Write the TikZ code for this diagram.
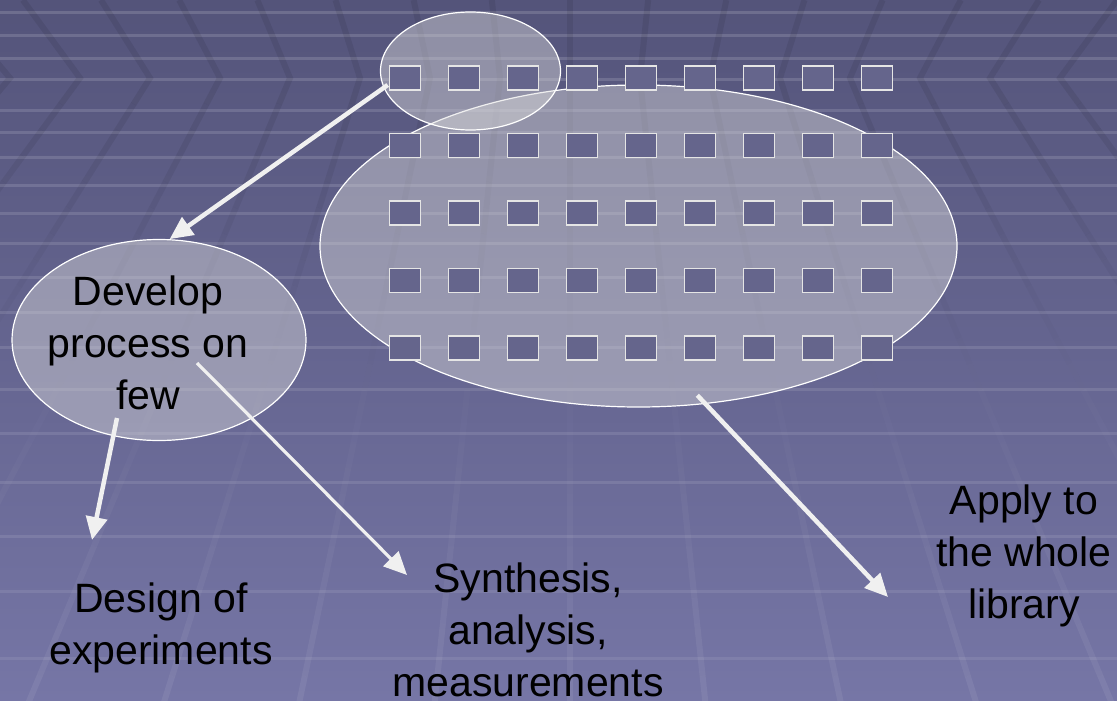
\documentclass[tikz,border=0pt]{standalone}
\usepackage{fontspec}
\setmainfont{Liberation Sans}
\usetikzlibrary{arrows.meta,shapes.geometric}

\definecolor{bgtop}{RGB}{84,84,122}
\definecolor{bgmid}{RGB}{96,96,140}
\definecolor{bgbot}{RGB}{118,118,166}
\definecolor{chipfill}{RGB}{101,101,140}
\definecolor{veil}{RGB}{220,220,220}
\definecolor{arrowwhite}{RGB}{240,240,240}

\tikzset{
  chip/.style={rectangle, draw=white!90!black, line width=1.3pt, fill=chipfill,
    minimum width=31pt, minimum height=24pt, inner sep=0pt},
  blob/.style={ellipse, draw=white, line width=1.2pt, fill=veil, fill opacity=0.44,
    inner sep=0pt},
  flowarrow/.style={draw=arrowwhite, line width=4.5pt,
    -{Triangle[length=23pt,width=21pt]}},
  lbltext/.style={text=black, align=center, font=\fontsize{41}{52}\selectfont,
    inner sep=0pt},
  stripe/.style={draw=white, line width=3pt},
  rib/.style={line width=6pt, line cap=butt, line join=miter},
}

\begin{document}
\begin{tikzpicture}[x=1pt,y=-1pt]
\useasboundingbox (0,0) rectangle (1117,701);
\clip (0,0) rectangle (1117,701);

% backdrop gradient
\fill[top color=bgtop, middle color=bgmid, bottom color=bgbot] (0,0) rectangle (1117,701);

% horizontal floor stripes
\foreach \y in {12.7,36,59,80,110,132,157,185,213,243,277,312,347,389,433,482,536,591,658} {
  \pgfmathsetmacro\so{0.15-0.07*\y/701}
  \draw[stripe, draw opacity=\so] (0,\y) -- (1117,\y);
}

% perspective ribs, folded at y=78
\foreach \k in {-8,...,7} {
  \draw[rib, black, draw opacity=0.08]
    ({570+70*\k*(1+0.001493*78)},0) -- ({570+70*\k},78) -- ({570+70*\k*(1+0.001493*26)},104);
  \foreach \j in {1,...,23} {
    \pgfmathsetmacro\ya{78+26*\j}
    \pgfmathsetmacro\yb{\ya+26}
    \pgfmathsetmacro\ym{\ya+13}
    \pgfmathsetmacro\dark{max(0,0.08*(1-(\ym-104)/280))}
    \pgfmathsetmacro\lite{max(0,0.07*(\ym-330)/370)}
    \pgfmathsetmacro\xa{570+70*\k*(1+0.001493*(\ya-78))}
    \pgfmathsetmacro\xb{570+70*\k*(1+0.001493*(\yb-78))}
    \draw[rib, black, draw opacity=\dark] (\xa,\ya) -- (\xb,\yb);
    \draw[rib, white, draw opacity=\lite] (\xa,\ya) -- (\xb,\yb);
  }
}

% translucent groupings
\node[blob, minimum width=637pt, minimum height=322pt] (lib) at (638.5,246) {};
\node[blob, minimum width=180pt, minimum height=118pt] (few) at (470.5,71) {};
\node[blob, minimum width=294pt, minimum height=201pt] (devEll) at (159,340) {};

% the library: 5 rows of 9 members
\foreach \r in {0,...,4} {
  \foreach \c in {0,...,8} {
    \node[chip] (sq-\r-\c) at ({404.8+59*\c},{78+67.5*\r}) {};
  }
}

% captions
\node[lbltext] (develop) at (148,343) {Develop\\process on\\few};
\node[lbltext] (doe) at (161,628) {Design of\\experiments};
\node[lbltext] (synth) at (528,630) {Synthesis,\\analysis,\\measurements};
\node[lbltext] (apply) at (1024,556) {Apply to\\the whole\\library};

% connector ends
\coordinate (fewFoot) at (117,418);
\coordinate (fewSide) at (197,363);
\coordinate (doeIn) at (92,540);
\coordinate (synthIn) at (407,575);
\coordinate (applyIn) at (888,597);

% connectors
\draw[flowarrow, shorten <=-5pt] (few.191) -- (devEll.84);
\draw[flowarrow] (fewFoot) -- (doeIn);
\draw[flowarrow, line width=3.2pt] (fewSide) -- (synthIn);
\draw[flowarrow, shorten <=-12pt] (lib.293) -- (applyIn);
\end{tikzpicture}
\end{document}
